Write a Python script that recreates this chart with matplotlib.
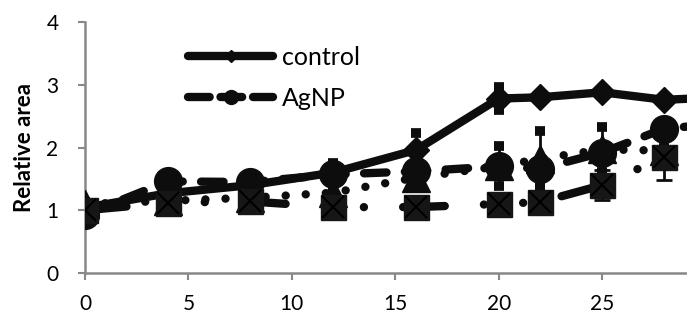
import numpy as np
import matplotlib
matplotlib.use('Agg')
import matplotlib.pyplot as plt
from matplotlib.lines import Line2D

plt.rcParams['font.family'] = ['Lato', 'DejaVu Sans']

# data
days = [0, 4, 8, 12, 16, 20, 22, 25, 28, 30]
control = [1.04, 1.27, 1.40, 1.60, 1.96, 2.78, 2.80, 2.88, 2.76, 2.79]
control_err = [0.03, 0.03, 0.03, 0.15, 0.27, 0.19, 0.03, 0.03, 0.03, 0.0]
agnp = [0.93, 1.46, 1.45, 1.57, 1.62, 1.70, 1.66, 1.92, 2.30, 2.36]
tri = [1.10, 1.15, 1.20, 1.28, 1.52, 1.70, 1.82, 1.97, 1.95, np.nan]
tri_err = [0.03, 0.03, 0.03, 0.03, 0.05, 0.32, 0.44, 0.36, 0.05, 0.0]
sq = [1.00, 1.12, 1.14, 1.05, 1.05, 1.10, 1.13, 1.40, 1.85, np.nan]
sq_err = [0.03, 0.03, 0.03, 0.03, 0.03, 0.03, 0.03, 0.24, 0.37, 0.0]

xticks = [0, 5, 10, 15, 20, 25]
yticks = [0, 1, 2, 3, 4]

fig = plt.figure(figsize=(6.87, 3.16), dpi=100)
ax = fig.add_axes([85 / 687, 43 / 316, 602 / 687, 251 / 316])

lw = 6
k = '#0d0d0d'

# triangle series, round dots
ax.errorbar(days, tri, yerr=tri_err, fmt='none', ecolor=k, elinewidth=2,
            capsize=3.6, capthick=7, zorder=2)
ax.plot(days, tri, linestyle=(0, (0.01, 2.4)), lw=lw, color=k,
        dash_capstyle='round', marker='^', ms=20, zorder=3)

# AgNP, dashed with circles
ax.plot(days, agnp, linestyle=(0, (2.7, 2.2)), lw=lw, color=k,
        dash_capstyle='round', marker='o', ms=20, zorder=4)

# control, solid with diamonds
ax.errorbar(days, control, yerr=control_err, fmt='none', ecolor=k,
            elinewidth=2, capsize=3.6, capthick=7, zorder=4)
ax.plot(days, control, '-', lw=lw, color=k, solid_capstyle='round',
        marker='D', ms=13.7, zorder=5)

# square / x series, long dash dot dot
ax.errorbar(days, sq, yerr=sq_err, fmt='none', ecolor=k, elinewidth=2,
            capsize=5.5, capthick=2, zorder=5)
ax.plot(days, sq, linestyle=(0, (5, 4.7, 0.01, 4.7, 0.01, 4.7)), lw=lw,
        color=k, dash_capstyle='round', marker='s', ms=18,
        mfc='#161616', mec='#161616', zorder=6)
ax.plot(days, sq, linestyle='none', marker='x', ms=16, mew=1.5,
        color='black', zorder=7)

ax.set_xlim(0, 29.1)
ax.set_ylim(0, 4)
ax.set_xticks(xticks)
ax.set_yticks(yticks)
ax.tick_params(labelsize=15, colors='#888888', length=5, width=1.5,
               labelcolor='black')
ax.tick_params(axis='y', pad=14)
ax.tick_params(axis='x', pad=10)
for s in ['top', 'right']:
    ax.spines[s].set_visible(False)
for s in ['left', 'bottom']:
    ax.spines[s].set_color('#888888')
    ax.spines[s].set_linewidth(1.8)

ax.set_ylabel('Relative area', fontsize=16, fontweight='bold', labelpad=8)

handles = [
    Line2D([], [], color=k, lw=lw, solid_capstyle='round', marker='D', ms=6),
    Line2D([], [], color=k, lw=lw, linestyle=(0, (2.6, 1.3)),
           dash_capstyle='round', marker='o', ms=10),
]
ax.legend(handles, ['control', 'AgNP'], loc='upper left',
          bbox_to_anchor=(188 / 687, 1 - 46 / 316),
          bbox_transform=fig.transFigure, frameon=False, fontsize=18,
          borderpad=0, borderaxespad=0, handlelength=3.4,
          labelspacing=0.7, handletextpad=0.35)

fig.savefig('out.png', dpi=100)
